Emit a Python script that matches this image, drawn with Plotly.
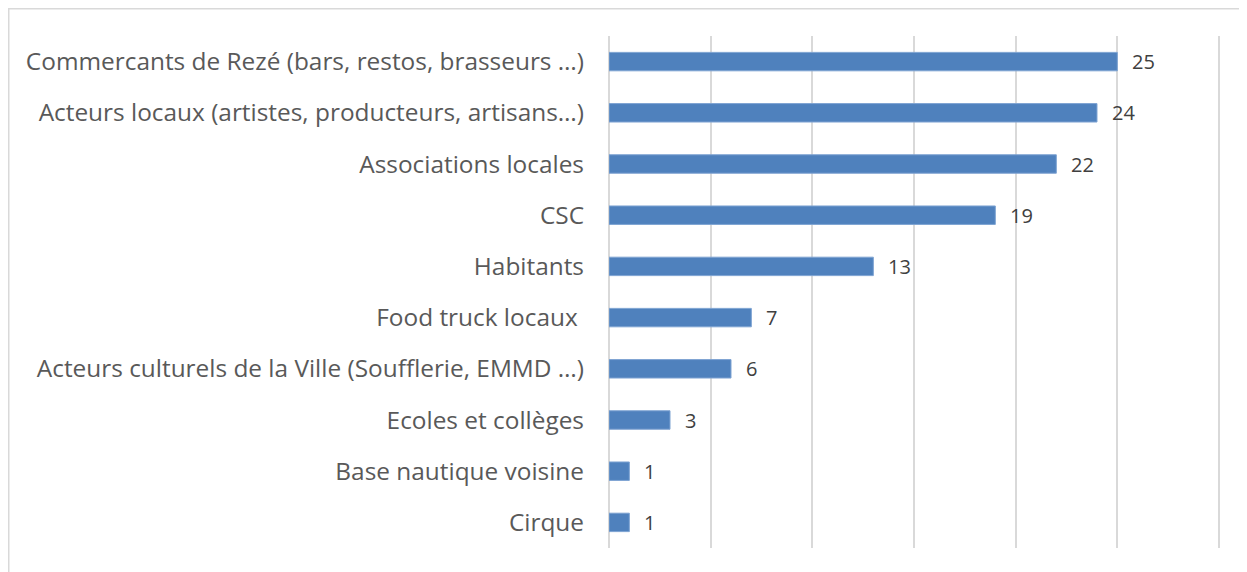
import plotly.graph_objects as go

categories = [
    "Commercants de Rezé (bars, restos, brasseurs …)",
    "Acteurs locaux (artistes, producteurs, artisans…)",
    "Associations locales",
    "CSC",
    "Habitants",
    "Food truck locaux ",
    "Acteurs culturels de la Ville (Soufflerie, EMMD …)",
    "Ecoles et collèges",
    "Base nautique voisine",
    "Cirque",
]
values = [25, 24, 22, 19, 13, 7, 6, 3, 1, 1]

# page body has an 8px margin, so the figure is sized/offset to compensate
W, H = 1239, 564
L, R, T, B = 601, 27, 28, 24

fig = go.Figure()
fig.add_trace(go.Bar(
    x=values, y=categories, orientation="h",
    marker=dict(color="#4f81bd", line=dict(color="#7ea3d2", width=1)),
    width=0.36, hoverinfo="x+y",
))

for v, c in zip(values, categories):
    fig.add_annotation(x=v, y=c, text=str(v), showarrow=False,
                       xanchor="left", xshift=13,
                       font=dict(family="Open Sans", size=20, color="#404040"))

fig.update_layout(
    width=W, height=H,
    margin=dict(l=L, r=R, t=T, b=B),
    paper_bgcolor="white", plot_bgcolor="white",
    showlegend=False,
    font=dict(family="Open Sans", color="#595959"),
    xaxis=dict(range=[0, 30.05], tick0=0, dtick=5, showgrid=True, gridcolor="#d9d9d9",
               gridwidth=1.5, showticklabels=False, zeroline=True,
               zerolinecolor="#d9d9d9", zerolinewidth=1.5, showline=False,
               fixedrange=True),
    yaxis=dict(autorange="reversed", showgrid=False, showline=False,
               tickfont=dict(family="Open Sans", size=24.4, color="#595959"),
               ticks="", ticklabelstandoff=24, fixedrange=True),
    shapes=[dict(type="rect", xref="paper", yref="paper",
                 x0=(0.75 - L) / (W - L - R), x1=(1238 - L) / (W - L - R),
                 y0=-B / (H - T - B) - 0.05, y1=1 + (T - 0.75) / (H - T - B),
                 line=dict(color="#d9d9d9", width=1.5), layer="below")],
)

fig.write_html("out.html")
